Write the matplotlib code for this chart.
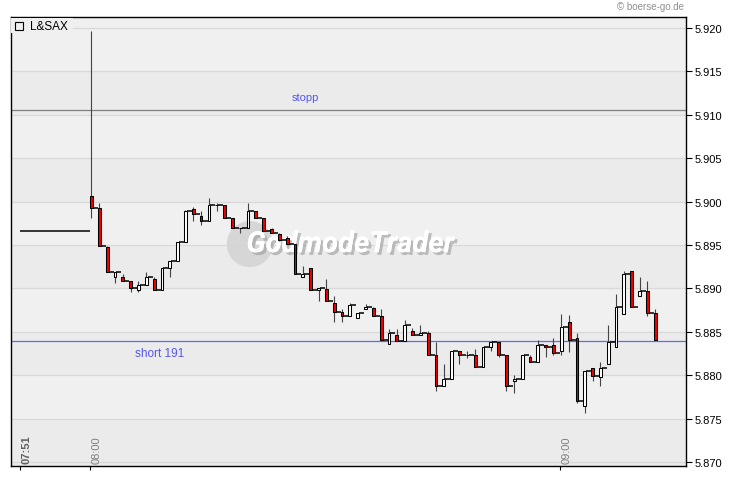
import matplotlib
matplotlib.use("Agg")
import matplotlib.pyplot as plt
from matplotlib.patches import Rectangle
import matplotlib.patheffects as pe
import matplotlib.transforms as mtransforms

plt.rcParams['font.family'] = ['Liberation Sans', 'DejaVu Sans']

# ---- data (1-minute candles, minutes after 08:00) ----
prev_close = 5.8966          # 07:51 reference line
prev_minute = -9
minutes = list(range(73))
opens = [5.9006, 5.8993, 5.8948, 5.8913, 5.8913, 5.8908, 5.8898, 5.8904, 5.8911, 5.8898,
         5.8923, 5.8932, 5.8953, 5.8992, 5.8983, 5.8978, 5.8996, 5.8996, 5.8981, 5.8970,
         5.8970, 5.8989, 5.8981, 5.8968, 5.8963, 5.8958, 5.8951, 5.8913, 5.8923, 5.8898,
         5.8899, 5.8883, 5.8873, 5.8868, 5.8866, 5.8876, 5.8877, 5.8868, 5.8836, 5.8846,
         5.8839, 5.8851, 5.8846, 5.8849, 5.8823, 5.8787, 5.8796, 5.8828, 5.8823, 5.8823,
         5.8810, 5.8833, 5.8838, 5.8823, 5.8793, 5.8796, 5.8821, 5.8815, 5.8835, 5.8835,
         5.8828, 5.8861, 5.8843, 5.8765, 5.8808, 5.8798, 5.8813, 5.8833, 5.8870, 5.8920,
         5.8891, 5.8897, 5.8872]
highs = [5.9196, 5.8998, 5.8949, 5.8919, 5.8917, 5.8908, 5.8908, 5.8919, 5.8913, 5.8923,
         5.8932, 5.8953, 5.8990, 5.8994, 5.8989, 5.9004, 5.8998, 5.8996, 5.8981, 5.8970,
         5.8998, 5.8989, 5.8981, 5.8970, 5.8964, 5.8960, 5.8951, 5.8926, 5.8924, 5.8900,
         5.8911, 5.8891, 5.8876, 5.8883, 5.8872, 5.8882, 5.8878, 5.8876, 5.8853, 5.8853,
         5.8864, 5.8854, 5.8858, 5.8851, 5.8838, 5.8813, 5.8828, 5.8828, 5.8828, 5.8830,
         5.8833, 5.8838, 5.8838, 5.8823, 5.8800, 5.8823, 5.8823, 5.8841, 5.8835, 5.8843,
         5.8871, 5.8869, 5.8849, 5.8805, 5.8808, 5.8815, 5.8858, 5.8894, 5.8920, 5.8920,
         5.8913, 5.8909, 5.8876]
lows = [5.8981, 5.8949, 5.8919, 5.8906, 5.8909, 5.8896, 5.8896, 5.8904, 5.8898, 5.8898,
        5.8913, 5.8932, 5.8953, 5.8978, 5.8973, 5.8978, 5.8989, 5.8981, 5.8970, 5.8964,
        5.8970, 5.8981, 5.8966, 5.8964, 5.8955, 5.8951, 5.8916, 5.8913, 5.8898, 5.8885,
        5.8886, 5.8861, 5.8861, 5.8868, 5.8866, 5.8876, 5.8868, 5.8840, 5.8836, 5.8839,
        5.8839, 5.8846, 5.8846, 5.8823, 5.8782, 5.8787, 5.8796, 5.8813, 5.8820, 5.8810,
        5.8810, 5.8828, 5.8821, 5.8782, 5.8780, 5.8796, 5.8815, 5.8815, 5.8821, 5.8823,
        5.8823, 5.8827, 5.8768, 5.8757, 5.8793, 5.8787, 5.8813, 5.8833, 5.8870, 5.8878,
        5.8891, 5.8868, 5.8840]
closes = [5.8993, 5.8949, 5.8919, 5.8919, 5.8909, 5.8900, 5.8904, 5.8913, 5.8898, 5.8923,
          5.8932, 5.8953, 5.8989, 5.8986, 5.8978, 5.8996, 5.8996, 5.8981, 5.8970, 5.8970,
          5.8989, 5.8981, 5.8966, 5.8964, 5.8956, 5.8951, 5.8916, 5.8916, 5.8898, 5.8900,
          5.8886, 5.8873, 5.8868, 5.8881, 5.8872, 5.8878, 5.8868, 5.8840, 5.8849, 5.8839,
          5.8858, 5.8846, 5.8849, 5.8823, 5.8787, 5.8796, 5.8828, 5.8823, 5.8823, 5.8810,
          5.8833, 5.8838, 5.8823, 5.8787, 5.8796, 5.8823, 5.8815, 5.8835, 5.8833, 5.8826,
          5.8855, 5.8841, 5.8770, 5.8805, 5.8799, 5.8808, 5.8838, 5.8878, 5.8917, 5.8878,
          5.8897, 5.8872, 5.8840]

stop_level = 5.9105
short_level = 5.8839
y_ticks = [5.870, 5.875, 5.880, 5.885, 5.890, 5.895, 5.900, 5.905, 5.910, 5.915, 5.920]
x_tick_minutes = [-9, 0, 60]
x_tick_labels = ['07:51', '08:00', '09:00']

# ---- figure ----
fig = plt.figure(figsize=(7.3, 4.81), dpi=100)
ax = fig.add_axes([0.0147, 0.0291, 0.9247, 0.9329])
ax.set_xlim(-10.13, 76.08)
ax.set_ylim(5.86954, 5.92123)
ax.set_facecolor('#ebebeb')

# alternating bands
for i in range(len(y_ticks) - 1):
    lo = y_ticks[i]
    col = '#ebebeb' if i % 2 == 0 else '#f0f0f0'
    ax.axhspan(lo, y_ticks[i + 1], color=col, lw=0, zorder=0)
ax.axhspan(y_ticks[-1], 5.93, color='#efefef', lw=0, zorder=0)

ax.set_yticks(y_ticks)
ax.set_yticklabels([f"{v:.3f}" for v in y_ticks])
ax.yaxis.tick_right()
ax.yaxis.grid(True, color='#d9d9d9', lw=0.9)
ax.set_axisbelow(True)
ax.tick_params(axis='y', direction='out', length=4, width=0.8, labelsize=8, pad=2, colors='black')
ax.set_xticks(x_tick_minutes)
ax.set_xticklabels([])
ax.tick_params(axis='x', direction='out', length=3, width=0.8)
for s in ax.spines.values():
    s.set_color('black')
    s.set_linewidth(1.0)

# horizontal marker lines
ax.axhline(stop_level, color='#808080', lw=0.9, zorder=1.5)
ax.axhline(short_level, color='#6666ff', lw=0.9, zorder=1.5)
ax.text(27.5, 5.9121, 'stopp', color='#5555ee', fontsize=8, ha='center', va='center', zorder=1.6)
ax.text(8.9, 5.8826, 'short 191', color='#5555ee', fontsize=8.5, ha='center', va='center', zorder=1.6)

# watermark
ax.scatter([20.4], [5.8951], s=1100, color='#d4d4d4', edgecolors='none', zorder=1.2, alpha=0.9)
ax.text(33.2, 5.8951, 'GodmodeTrader', fontsize=21, fontweight='bold', style='italic',
        family=['Roboto', 'DejaVu Sans'], color='white', ha='center', va='center', zorder=1.3,
        path_effects=[pe.withSimplePatchShadow(offset=(2, -2), shadow_rgbFace='#9a9a9a', alpha=0.6),
                      pe.Normal()])

# reference line from 07:51
ax.hlines(prev_close, prev_minute, minutes[0], color='black', lw=1.1, zorder=2.5)

# candles
bw = 0.36
for i, m in enumerate(minutes):
    o, h, l, c = opens[i], highs[i], lows[i], closes[i]
    xc = m + bw / 2
    ax.vlines(xc, l, h, color='#444444', lw=0.8, zorder=2)
    if i + 1 < len(minutes):
        ax.hlines(c, m + bw, minutes[i + 1], color='black', lw=1.1, zorder=2.5)
    fc = '#ee0000' if c < o else 'white'
    ax.add_patch(Rectangle((m, min(o, c)), bw, abs(c - o), facecolor=fc, edgecolor='black',
                           lw=0.75, zorder=3))

# x labels inside the plot
trans = mtransforms.blended_transform_factory(ax.transData, ax.transAxes)
for m, lab in zip(x_tick_minutes, x_tick_labels):
    bold = lab == '07:51'
    ax.text(m + 0.9, 0.006, lab, rotation=90, ha='center', va='bottom', fontsize=8,
            color='#606060' if bold else '#808080', fontweight='bold' if bold else 'normal',
            transform=trans, zorder=4)

# legend
fig.patches.append(Rectangle((10.8 / 730, 1 - 34 / 481), 62 / 730, 15 / 481,
                             transform=fig.transFigure, facecolor='#efefef', edgecolor='none', zorder=1))
fig.patches.append(Rectangle((14.5 / 730, 1 - 30.5 / 481), 8 / 730, 8 / 481,
                             transform=fig.transFigure, facecolor='none', edgecolor='black', lw=0.8, zorder=2))
fig.text(30 / 730, 1 - 26.5 / 481, 'L&SAX', fontsize=8.5, va='center', ha='left', color='black', zorder=3)
fig.text(684 / 730, 1 - 7 / 481, '© boerse-go.de', fontsize=7, va='center', ha='right', color='#909090')

fig.savefig('out.png', dpi=100)
